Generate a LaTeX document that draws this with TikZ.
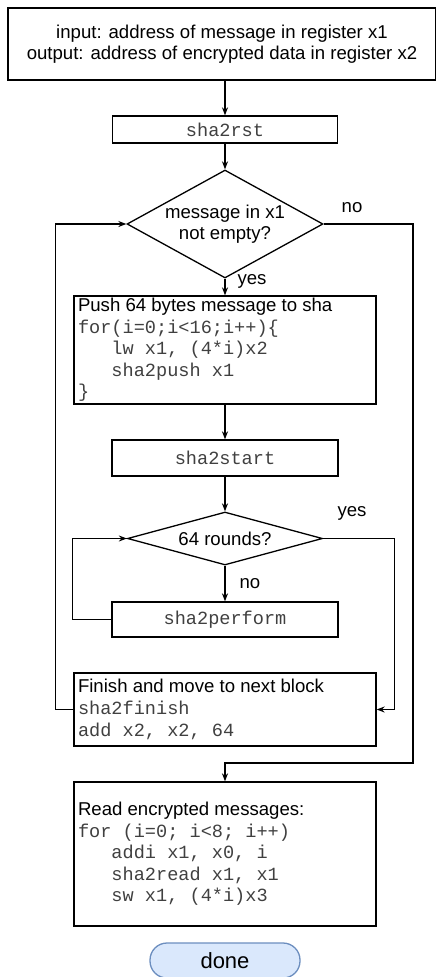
\documentclass[tikz,border=0pt]{standalone}
\usepackage{fontspec}
\setmainfont{Liberation Sans}
\setmonofont{Liberation Mono}
\usetikzlibrary{shapes.geometric,arrows.meta}
\definecolor{codegray}{HTML}{404040}
\definecolor{donefill}{HTML}{DAE8FC}
\definecolor{doneline}{HTML}{6C8EBF}
\newcommand\fsz{\fontsize{18.6}{21.5}\selectfont}
\newcommand\code[1]{{\ttfamily\color{codegray}#1}}
\newcommand\ind{{\ttfamily\phantom{xxx}}}

\begin{document}
\begin{tikzpicture}[x=1pt,y=-1pt,line width=1.3pt,
  every node/.style={font=\fsz},
  box/.style={draw,rectangle,inner sep=0pt,align=center},
  codebox/.style={draw,rectangle,align=flush left,inner xsep=4pt,inner ysep=0pt,text width=294pt},
  decision/.style={draw,diamond,aspect=#1,inner sep=0pt,align=center},
  terminal/.style={draw=doneline,fill=donefill,rectangle,rounded corners=17pt,inner sep=0pt},
  flow/.style={-{Stealth[length=8pt,width=6pt]}}]

\useasboundingbox (0,0) rectangle (436,977);

% process blocks
\node[box,minimum width=428pt,minimum height=72pt] (top) at (222,44)
  {input: address of message in register x1\\output: address of encrypted data in register x2};
\node[box,minimum width=225pt,minimum height=27pt] (rst) at (225,129.5) {\code{sha2rst}};
\node[decision=1.8,minimum width=196pt,minimum height=108pt] (d1) at (225,224)
  {message in x1\\not empty?};
\node[codebox,minimum height=108pt] (push) at (225,350)
  {Push 64 bytes message to sha\\
   \code{for(i=0;i<16;i++)\{}\\
   \ind\code{lw x1, (4*i)x2}\\
   \ind\code{sha2push x1}\\
   \code{\}}};
\node[box,minimum width=226pt,minimum height=36pt] (start) at (225,458) {\code{sha2start}};
\node[decision=3.68,minimum width=195pt,minimum height=53pt] (d2) at (225,538.5) {64 rounds?};
\node[box,minimum width=226pt,minimum height=35pt] (perform) at (225,619.5) {\code{sha2perform}};
\node[codebox,minimum height=73pt] (finish) at (225,709.5)
  {Finish and move to next block\\
   \code{sha2finish}\\[1pt]
   \code{add x2, x2, 64}};
\node[codebox,minimum height=144pt] (read) at (225,854)
  {Read encrypted messages:\\
   \code{for (i=0; i<8; i++)}\\
   \ind\code{addi x1, x0, i}\\
   \ind\code{sha2read x1, x1}\\
   \ind\code{sw x1, (4*i)x3}};
\node[terminal,minimum width=150pt,minimum height=35pt] (done) at (225,960.5)
  {\fontsize{22}{24}\selectfont done};

% branch labels
\node (lno1) at (352,208) {no};
\node (lyes1) at (252,281) {yes};
\node (lyes2) at (352,513) {yes};
\node (lno2) at (250,584) {no};

% connectors
\coordinate (exitturn) at (413,763);
\draw[flow] (top.south -| rst.north) -- (rst.north);
\draw[flow] (rst.south) -- (d1.north);
\draw[flow] (d1.south) -- (push.north);
\draw[flow] (push.south) -- (start.north);
\draw[flow] (start.south) -- (d2.north);
\draw[flow] (d2.south) -- (perform.north);
\draw[flow] (perform.west) -- ++(-39,0) |- (d2.west);
\draw[flow] (d2.east) -- ++(71,0) |- (finish.east);
\draw[flow] (finish.west) -- ++(-18,0) |- (d1.west);
\draw[flow] (d1.east) -| (exitturn) -- (exitturn -| read.north) -- (read.north);
\end{tikzpicture}
\end{document}
